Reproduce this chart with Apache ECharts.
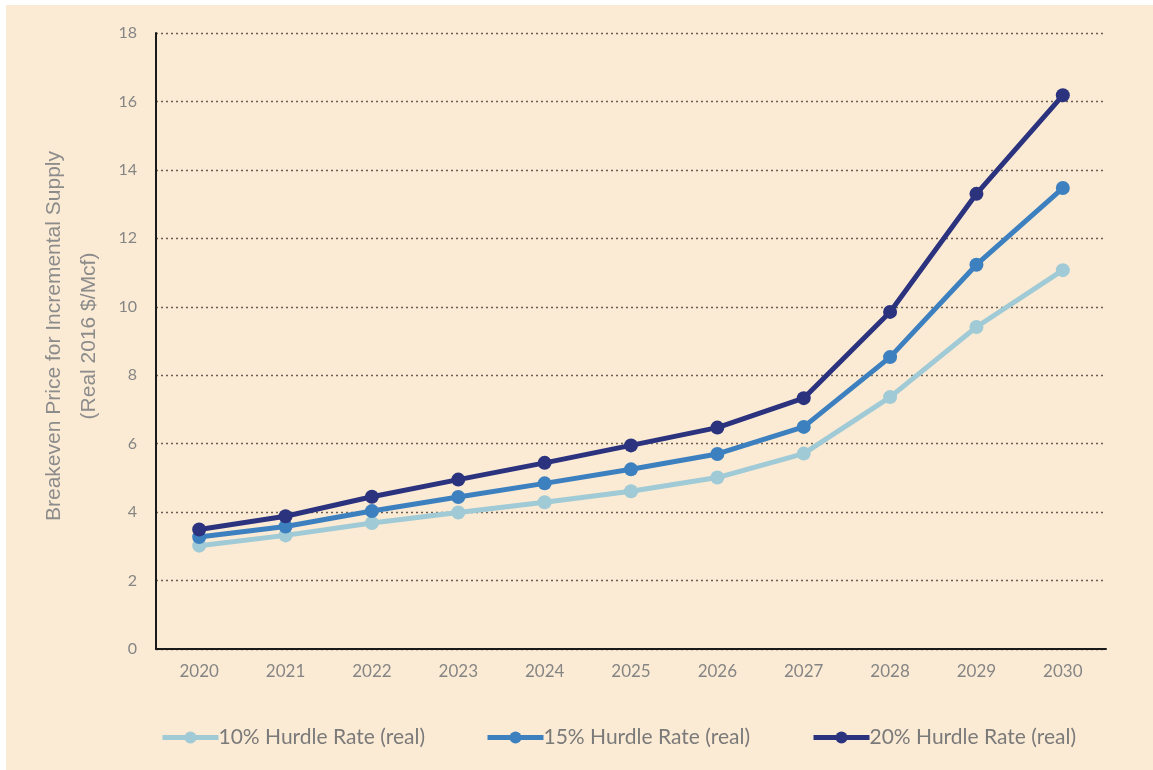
<!DOCTYPE html>
<html>
<head>
<meta charset="utf-8">
<script src="https://cdn.jsdelivr.net/npm/echarts@6/dist/echarts.min.js"></script>
<style>
html,body{margin:0;padding:0;width:100%;height:100%;background:#ffffff;overflow:hidden;}
#chart{position:absolute;left:6px;top:5px;right:0;bottom:0;background:#FCEBD4;}
</style>
</head>
<body>
<div id="chart"></div>
<script>
const years = ['2020','2021','2022','2023','2024','2025','2026','2027','2028','2029','2030'];
const seriesNames = ['10% Hurdle Rate (real)','15% Hurdle Rate (real)','20% Hurdle Rate (real)'];
const hurdle10 = [3.02, 3.32, 3.68, 3.99, 4.29, 4.61, 5.01, 5.71, 7.36, 9.41, 11.07];
const hurdle15 = [3.27, 3.58, 4.03, 4.44, 4.84, 5.25, 5.70, 6.49, 8.53, 11.23, 13.47];
const hurdle20 = [3.49, 3.88, 4.45, 4.95, 5.44, 5.95, 6.47, 7.33, 9.85, 13.30, 16.18];
const yTicks = [0, 2, 4, 6, 8, 10, 12, 14, 16, 18];

const colors = ['#9FCAD6', '#3D80C0', '#2B337F'];
const allData = [hurdle10, hurdle15, hurdle20];

const chart = echarts.init(document.getElementById('chart'));
const legendLefts = [154, 479, 805];

const option = {
  backgroundColor: '#FCEBD4',
  animation: false,
  grid: { left: 150, right: 47, top: 28, bottom: 121, outerBoundsMode: 'none', containLabel: false },
  legend: seriesNames.map((n, i) => ({
    data: [n],
    left: legendLefts[i],
    top: 722,
    padding: 0,
    itemWidth: 56,
    itemHeight: 15,
    itemGap: 0,
    lineStyle: { width: 5 },
    textStyle: { color: '#7a7a7a', fontSize: 21, fontFamily: 'Lato', padding: [0, 0, 0, -5] }
  })),
  xAxis: {
    type: 'category',
    data: years,
    boundaryGap: true,
    axisLine: { lineStyle: { color: '#1a1a1a', width: 2 } },
    axisTick: { show: false },
    axisLabel: { color: '#858585', fontSize: 17, fontFamily: 'Lato', margin: 14 },
    splitLine: { show: false }
  },
  yAxis: {
    type: 'value',
    min: yTicks[0],
    max: yTicks[yTicks.length - 1],
    interval: 2,
    name: 'Breakeven Price for Incremental Supply\n(Real 2016 $/Mcf)',
    nameLocation: 'middle',
    nameRotate: 90,
    nameGap: 49,
    nameTextStyle: { color: '#8c8c8c', fontSize: 21, fontFamily: 'Liberation Sans', lineHeight: 35, padding: [0, 0, 0, 10] },
    axisLine: { show: true, lineStyle: { color: '#1a1a1a', width: 2 } },
    axisTick: { show: false },
    axisLabel: { color: '#858585', fontSize: 16, fontFamily: 'Lato', margin: 19 },
    splitLine: { show: true, lineStyle: { color: '#6b5d52', width: 1.3, type: [2, 3] } }
  },
  series: seriesNames.map((n, i) => ({
    name: n,
    type: 'line',
    data: allData[i],
    symbol: 'circle',
    symbolSize: 14,
    showSymbol: true,
    lineStyle: { color: colors[i], width: 5 },
    itemStyle: { color: colors[i] },
    z: 2 + i
  }))
};
chart.setOption(option);
</script>
</body>
</html>
